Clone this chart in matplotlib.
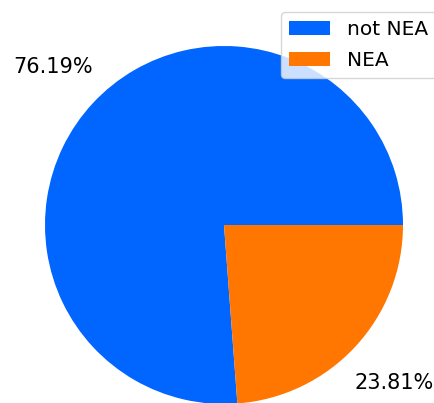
import matplotlib
matplotlib.use("Agg")
import matplotlib.pyplot as plt

labels = ["not NEA", "NEA"]
values = [76.19, 23.81]
colors = ["#0066ff", "#ff7700"]

W, H = 435, 403
fig = plt.figure(figsize=(W / 100, H / 100), dpi=100)
cx, cy, r = 224, 225, 179
ax = fig.add_axes([(cx - r) / W, (H - cy - r) / H, 2 * r / W, 2 * r / H])
wedges, texts, autotexts = ax.pie(values, colors=colors, autopct="%.2f%%",
                                  pctdistance=1.3, startangle=0, counterclock=True,
                                  textprops={"fontsize": 15})
ax.set_xlim(-1, 1)
ax.set_ylim(-1, 1)
ax.set_aspect("equal")
ax.axis("off")
fig.legend(wedges, labels, loc="upper right", bbox_to_anchor=(1.025, 0.995),
           fontsize=14.5, handlelength=2.0, handletextpad=0.85, labelspacing=0.6)
fig.savefig("out.png", dpi=100)
